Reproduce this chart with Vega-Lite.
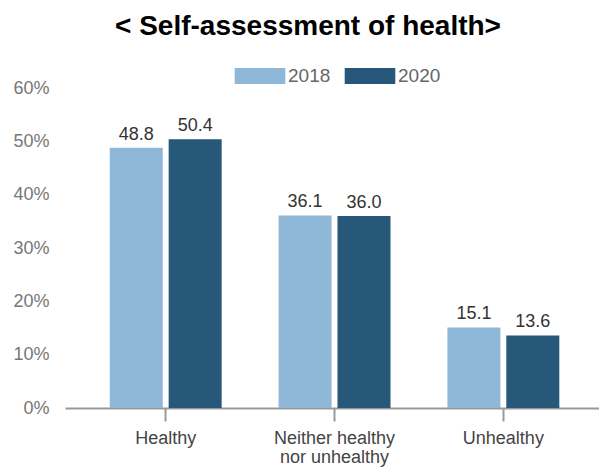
{
  "$schema": "https://vega.github.io/schema/vega-lite/v6.json",
  "width": 534,
  "height": 320,
  "autosize": {"type": "none"},
  "padding": {"left": 65, "top": 88, "right": 0, "bottom": 60},
  "background": "white",
  "view": {"stroke": null},
  "title": {
    "text": "< Self-assessment  of  health>",
    "font": "Liberation Sans",
    "fontSize": 28,
    "fontWeight": "bold",
    "color": "#000000",
    "anchor": "middle",
    "frame": "group",
    "dx": -24,
    "offset": 19
  },
  "data": {
    "values": [
      {"category": "Healthy", "year": "2018", "value": 48.8},
      {"category": "Healthy", "year": "2020", "value": 50.4},
      {"category": "Neither healthy nor unhealthy", "year": "2018", "value": 36.1},
      {"category": "Neither healthy nor unhealthy", "year": "2020", "value": 36.0},
      {"category": "Unhealthy", "year": "2018", "value": 15.1},
      {"category": "Unhealthy", "year": "2020", "value": 13.6}
    ]
  },
  "encoding": {
    "x": {
      "field": "category",
      "type": "nominal",
      "sort": null,
      "scale": {"paddingInner": 0.337, "paddingOuter": 0.25, "align": 0.53},
      "axis": {
        "title": null,
        "labelAngle": 0,
        "labelFont": "Liberation Sans",
        "labelFontSize": 18,
        "labelColor": "#444444",
        "labelPadding": 8,
        "domainColor": "#999999",
        "domainWidth": 2,
        "tickColor": "#999999",
        "tickWidth": 2,
        "tickSize": 13,
        "labelLineHeight": 19,
        "labelExpr": "datum.value == 'Neither healthy nor unhealthy' ? ['Neither healthy', 'nor unhealthy'] : datum.label"
      }
    },
    "xOffset": {"field": "year", "type": "nominal", "scale": {"paddingInner": 0.1}},
    "y": {
      "field": "value",
      "type": "quantitative",
      "scale": {"domain": [0, 60]},
      "axis": {
        "title": null,
        "values": [0, 10, 20, 30, 40, 50, 60],
        "grid": false,
        "domain": false,
        "ticks": false,
        "labelPadding": 16,
        "labelFont": "Liberation Sans",
        "labelFontSize": 18,
        "labelColor": "#777777",
        "labelExpr": "datum.value + '%'"
      }
    }
  },
  "layer": [
    {
      "mark": {"type": "bar"},
      "encoding": {
        "color": {
          "field": "year",
          "type": "nominal",
          "scale": {"domain": ["2018", "2020"], "range": ["#8fb8d8", "#27587a"]},
          "legend": {
            "title": null,
            "orient": "none",
            "direction": "horizontal",
            "legendX": 179,
            "legendY": -28,
            "symbolType": "M-1.6,-0.5H1.6V0.5H-1.6Z",
            "symbolSize": 1000,
            "symbolStrokeWidth": 0,
            "symbolOpacity": 1,
            "labelFont": "Liberation Sans",
            "labelFontSize": 19,
            "labelColor": "#666666",
            "labelOffset": 12,
            "columnPadding": 13
          }
        }
      }
    },
    {
      "mark": {"type": "text", "baseline": "bottom", "dy": -4, "font": "Liberation Sans", "fontSize": 18, "color": "#333333"},
      "encoding": {
        "text": {"field": "value", "type": "quantitative", "format": ".1f"}
      }
    }
  ]
}
